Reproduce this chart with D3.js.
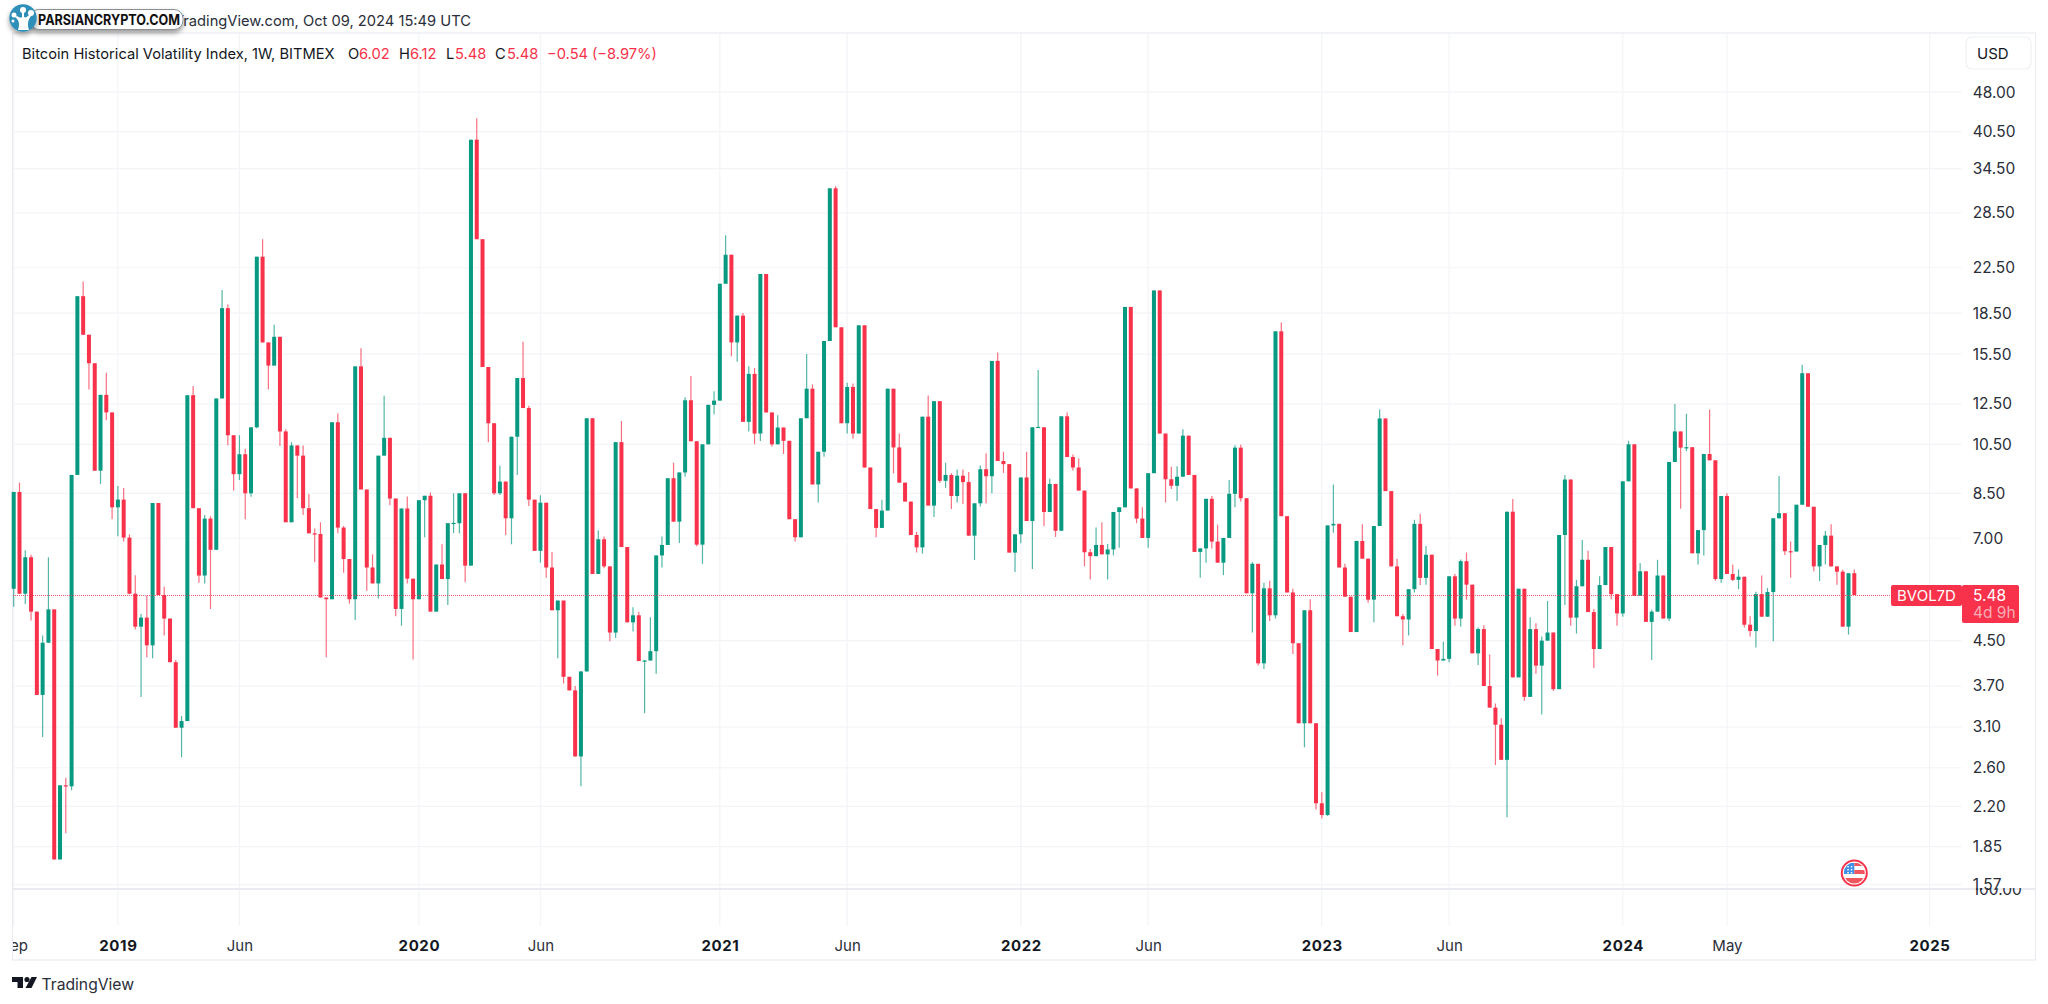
<!DOCTYPE html>
<html>
<head>
<meta charset="utf-8">
<title>Bitcoin Historical Volatility Index</title>
<script src="https://cdn.jsdelivr.net/npm/d3@7"></script>
<style>
  html, body { margin: 0; padding: 0; background: #fff; }
  svg { display: block; }
  text { font-family: Inter, "Noto Sans", sans-serif; }
</style>
</head>
<body>
<svg id="chart" width="2048" height="1004"></svg>
<script>
// Weekly candles. First bar is the week of Sep 03 2018
var opens = [
  5.63, 8.55, 5.51, 6.45, 5.10, 3.56, 4.46, 5.15, 1.75, 2.41,
  2.40, 9.20, 19.9, 16.85, 14.9, 9.37, 13.0, 12.05, 8.0, 8.27,
  7.02, 5.51, 4.78, 4.97, 4.41, 8.15, 5.48, 4.95, 4.10, 3.09,
  3.18, 12.98, 7.97, 5.96, 7.62, 6.66, 12.8, 18.9, 10.92, 9.23,
  10.06, 8.5, 11.3, 23.6, 16.3, 14.75, 16.7, 11.1, 7.5, 10.45,
  10.0, 7.97, 7.15, 7.13, 5.42, 5.38, 11.55, 7.33, 6.40, 5.38,
  14.7, 8.64, 6.17, 5.76, 10.0, 10.8, 8.31, 5.16, 7.96, 5.88,
  5.38, 8.25, 8.41, 5.1, 6.25, 5.87, 7.47, 7.47, 8.5, 6.22,
  39.1, 25.45, 14.66, 11.5, 8.5, 8.94, 7.63, 10.85, 13.98, 12.28,
  8.27, 6.63, 8.16, 6.17, 5.13, 5.35, 3.85, 3.63, 2.73, 3.94,
  11.75, 6.0, 6.97, 6.2, 4.66, 10.6, 6.74, 4.87, 5.02, 4.12,
  4.13, 4.30, 6.5, 6.8, 9.07, 7.52, 9.3, 12.7, 10.64, 6.81,
  10.5, 12.45, 12.68, 21.0, 23.8, 16.3, 18.3, 11.57, 14.23, 11.0,
  21.9, 12.05, 10.5, 11.29, 10.66, 7.6, 7.03, 11.75, 13.35, 8.83,
  10.17, 16.4, 31.7, 17.4, 11.5, 13.45, 11.0, 17.55, 9.5, 7.94,
  7.32, 7.89, 13.35, 10.36, 8.9, 8.2, 7.1, 6.73, 11.83, 8.06,
  12.65, 8.97, 9.2, 8.4, 9.17, 8.92, 7.08, 8.14, 9.43, 9.15,
  15.05, 9.77, 9.64, 6.58, 7.12, 9.1, 7.54, 11.3, 11.3, 7.84,
  8.85, 7.23, 11.85, 9.94, 9.5, 8.6, 6.59, 6.48, 6.8, 6.53,
  6.67, 7.84, 8.0, 19.0, 8.68, 7.62, 7.01, 9.27, 20.4, 11.0,
  9.03, 8.78, 9.13, 10.9, 9.2, 6.6, 6.7, 8.3, 6.9, 6.3,
  7.01, 8.48, 10.35, 8.32, 5.52, 6.27, 4.08, 5.64, 5.02, 17.1,
  7.7, 5.54, 4.45, 3.15, 5.13, 3.15, 2.23, 2.12, 7.4, 7.45,
  6.17, 5.44, 4.67, 6.92, 6.41, 5.37, 7.38, 11.74, 8.58, 6.2,
  5.0, 4.93, 5.62, 7.45, 5.9, 6.52, 4.34, 4.13, 4.16, 5.94,
  4.95, 6.34, 5.73, 4.26, 4.73, 3.7, 3.37, 3.13, 2.69, 7.85,
  3.84, 5.63, 3.53, 4.73, 4.04, 4.5, 4.66, 3.65, 7.1, 9.02,
  4.97, 5.69, 6.38, 5.09, 4.34, 5.72, 6.74, 5.5, 5.06, 8.95,
  10.5, 5.46, 6.07, 4.88, 5.1, 5.96, 4.95, 9.73, 11.1, 10.35,
  10.37, 6.56, 7.25, 10.07, 9.8, 5.87, 8.4, 6.0, 5.85, 5.93,
  4.82, 4.69, 5.5, 4.99, 5.55, 7.63, 7.8, 6.62, 6.61, 8.09,
  14.27, 8.02, 6.2, 6.8, 7.08, 6.2, 6.06, 4.78, 6.02
];
var highs = [
  8.55, 8.9, 6.65, 6.52, 5.10, 4.60, 6.45, 5.15, 2.41, 2.49,
  9.20, 19.9, 21.2, 16.85, 14.9, 13.0, 14.3, 12.05, 8.77, 8.7,
  7.12, 5.97, 5.05, 5.46, 8.15, 8.15, 5.68, 4.95, 4.14, 3.25,
  12.98, 13.5, 7.97, 7.74, 7.7, 12.8, 20.45, 19.2, 10.92, 10.92,
  10.3, 11.3, 23.6, 25.45, 16.3, 17.6, 16.7, 11.2, 10.6, 10.45,
  10.45, 8.47, 7.3, 7.5, 5.42, 11.55, 12.0, 7.38, 6.40, 14.7,
  15.9, 8.64, 6.53, 10.0, 12.95, 10.8, 8.31, 7.96, 8.38, 5.88,
  8.25, 8.41, 8.53, 6.25, 6.82, 7.47, 8.5, 8.5, 8.5, 39.1,
  42.9, 25.45, 14.66, 11.5, 9.57, 8.94, 10.85, 13.98, 16.35, 12.4,
  8.27, 8.43, 8.16, 6.6, 5.35, 5.35, 3.85, 3.70, 3.94, 11.75,
  11.75, 7.25, 7.05, 6.2, 10.6, 11.61, 6.74, 5.2, 5.1, 4.14,
  4.98, 6.5, 7.05, 9.07, 9.7, 9.3, 12.87, 14.1, 10.64, 10.5,
  12.45, 13.2, 21.0, 25.9, 23.8, 18.3, 18.5, 14.7, 14.6, 21.9,
  21.9, 12.05, 11.9, 11.29, 10.66, 7.6, 11.75, 15.5, 13.6, 10.17,
  16.4, 31.7, 32.0, 17.4, 13.7, 13.65, 17.55, 17.55, 9.5, 7.94,
  8.27, 13.35, 13.35, 11.0, 8.9, 8.2, 7.2, 11.83, 12.96, 12.65,
  12.65, 9.7, 9.27, 9.42, 9.42, 9.32, 8.14, 9.58, 10.1, 15.05,
  15.6, 10.17, 9.64, 7.12, 9.1, 10.17, 11.3, 14.47, 11.32, 9.05,
  8.85, 11.85, 12.05, 10.05, 9.88, 8.6, 6.68, 7.33, 7.5, 6.83,
  7.84, 8.0, 19.0, 19.0, 8.68, 8.0, 9.27, 20.4, 20.4, 11.0,
  9.53, 9.55, 11.2, 10.9, 9.2, 6.7, 8.3, 8.4, 7.42, 7.01,
  9.0, 10.46, 10.48, 8.32, 6.32, 6.27, 5.78, 5.83, 17.1, 17.76,
  7.7, 5.63, 4.45, 5.13, 5.38, 3.15, 2.34, 7.4, 8.83, 7.45,
  6.27, 5.44, 6.92, 7.44, 6.41, 7.38, 12.2, 11.74, 8.58, 6.41,
  5.05, 5.62, 7.58, 7.78, 6.77, 6.52, 4.34, 4.48, 5.94, 6.0,
  6.39, 6.58, 5.73, 4.76, 4.81, 4.24, 3.43, 3.22, 7.85, 8.29,
  5.63, 5.63, 4.98, 4.85, 4.58, 5.34, 4.66, 7.1, 9.2, 9.02,
  5.85, 6.95, 6.63, 5.16, 5.94, 6.74, 6.74, 5.5, 8.95, 10.66,
  10.5, 6.29, 6.07, 5.14, 6.38, 5.96, 9.73, 12.5, 11.1, 11.98,
  10.37, 7.25, 10.07, 12.2, 9.8, 8.4, 8.5, 6.25, 6.12, 5.93,
  5.0, 5.56, 5.96, 5.65, 7.63, 9.16, 7.8, 6.9, 8.09, 14.8,
  14.27, 8.02, 6.8, 7.22, 7.44, 6.2, 6.11, 6.02, 6.12
];
var lows = [
  5.21, 5.51, 5.27, 4.91, 3.56, 2.97, 4.46, 1.75, 1.75, 1.96,
  2.36, 9.2, 16.85, 13.3, 9.37, 8.85, 11.65, 7.6, 7.06, 6.9,
  5.51, 4.72, 3.53, 4.19, 4.17, 5.48, 4.60, 4.10, 3.09, 2.72,
  3.18, 7.97, 5.78, 5.76, 5.16, 6.66, 12.8, 10.46, 8.6, 9.0,
  7.6, 8.37, 11.25, 16.3, 13.3, 14.75, 10.42, 7.5, 7.5, 8.33,
  7.74, 7.15, 6.31, 5.42, 4.19, 5.38, 7.15, 6.03, 5.28, 4.92,
  8.64, 5.58, 5.76, 5.4, 10.0, 8.07, 5.0, 4.8, 5.76, 4.15,
  5.38, 7.03, 5.1, 5.1, 5.87, 5.25, 7.16, 7.15, 5.79, 6.22,
  25.45, 14.66, 10.6, 8.44, 8.44, 7.1, 6.82, 9.2, 12.28, 8.05,
  6.63, 6.3, 5.9, 5.13, 4.17, 3.74, 3.63, 2.73, 2.40, 3.94,
  6.0, 6.0, 6.15, 4.49, 4.55, 6.74, 4.87, 4.68, 4.12, 3.29,
  4.13, 3.9, 6.17, 6.8, 7.52, 6.86, 9.13, 10.64, 6.76, 6.27,
  10.5, 11.95, 12.68, 21.0, 15.35, 15.0, 11.57, 11.1, 10.5, 10.65,
  12.05, 10.4, 10.5, 10.07, 7.6, 6.9, 7.03, 11.75, 8.83, 8.17,
  9.95, 16.4, 17.4, 11.5, 11.0, 10.75, 11.0, 9.5, 7.94, 7.03,
  7.32, 7.89, 9.26, 8.9, 8.2, 7.1, 6.58, 6.55, 8.06, 7.67,
  8.9, 8.7, 7.94, 8.17, 8.12, 7.08, 6.37, 8.03, 8.14, 8.5,
  9.77, 9.28, 6.58, 6.05, 6.85, 7.54, 6.13, 11.3, 7.37, 7.84,
  7.04, 7.23, 9.94, 9.38, 8.6, 6.2, 5.86, 6.48, 6.53, 5.86,
  6.5, 6.72, 8.0, 8.68, 7.47, 7.01, 6.72, 9.27, 11.0, 8.17,
  8.66, 8.22, 9.13, 9.2, 6.6, 5.9, 6.3, 6.7, 6.3, 5.97,
  7.01, 8.0, 8.2, 5.52, 4.66, 4.04, 3.98, 4.9, 4.95, 7.7,
  5.54, 4.25, 3.15, 2.84, 3.15, 2.17, 2.09, 2.11, 7.17, 6.17,
  5.44, 4.67, 4.67, 6.41, 5.3, 4.87, 7.38, 8.58, 6.2, 5.0,
  4.41, 4.6, 5.54, 5.72, 5.73, 4.34, 3.87, 4.13, 4.1, 4.8,
  4.78, 5.37, 4.26, 4.05, 3.7, 3.37, 2.63, 2.69, 2.1, 3.84,
  3.84, 3.47, 3.53, 3.9, 3.27, 4.5, 3.62, 3.65, 5.25, 4.8,
  4.64, 5.69, 5.09, 4.0, 4.34, 5.72, 5.38, 4.8, 4.99, 8.95,
  5.46, 5.46, 4.88, 4.14, 5.1, 4.95, 4.9, 9.73, 7.95, 10.2,
  6.56, 6.25, 6.5, 9.8, 5.83, 5.78, 6.0, 5.82, 5.62, 4.76,
  4.58, 4.37, 4.99, 4.99, 4.49, 7.63, 6.51, 5.9, 6.61, 8.09,
  8.02, 6.07, 5.82, 6.25, 6.2, 5.73, 4.78, 4.62, 5.48
];
var closes = [
  8.55, 5.51, 6.45, 5.10, 3.56, 4.46, 5.15, 1.75, 2.41, 2.40,
  9.20, 19.9, 16.85, 14.9, 9.37, 13.0, 12.05, 8.0, 8.27, 7.02,
  5.51, 4.78, 4.97, 4.41, 8.15, 5.48, 4.95, 4.10, 3.09, 3.18,
  12.98, 7.97, 5.96, 7.62, 6.66, 12.8, 18.9, 10.92, 9.23, 10.06,
  8.5, 11.3, 23.6, 16.3, 14.75, 16.7, 11.1, 7.5, 10.45, 10.0,
  7.97, 7.15, 7.13, 5.42, 5.38, 11.55, 7.33, 6.40, 5.38, 14.7,
  8.64, 6.17, 5.76, 10.0, 10.8, 8.31, 5.16, 7.96, 5.88, 5.38,
  8.25, 8.41, 5.1, 6.25, 5.87, 7.47, 7.48, 8.5, 6.22, 39.1,
  25.45, 14.66, 11.5, 8.5, 8.94, 7.63, 10.85, 13.98, 12.28, 8.27,
  6.63, 8.16, 6.17, 5.13, 5.35, 3.85, 3.63, 2.73, 3.94, 11.75,
  6.0, 6.97, 6.2, 4.66, 10.6, 6.74, 4.87, 5.02, 4.12, 4.13,
  4.30, 6.5, 6.8, 9.07, 7.52, 9.3, 12.7, 10.64, 6.81, 10.5,
  12.45, 12.68, 21.0, 23.8, 16.3, 18.3, 11.57, 14.23, 11.0, 21.9,
  12.05, 10.5, 11.29, 10.66, 7.6, 7.03, 11.75, 13.35, 8.83, 10.17,
  16.4, 31.7, 17.4, 11.5, 13.45, 11.0, 17.55, 9.5, 7.94, 7.32,
  7.89, 13.35, 10.36, 8.9, 8.2, 7.1, 6.73, 11.83, 8.06, 12.65,
  8.97, 9.2, 8.4, 9.17, 8.92, 7.08, 8.14, 9.43, 9.15, 15.05,
  9.77, 9.64, 6.58, 7.12, 9.1, 7.54, 11.3, 11.32, 7.84, 8.85,
  7.23, 11.85, 9.94, 9.5, 8.6, 6.59, 6.48, 6.8, 6.53, 6.67,
  7.84, 8.0, 19.0, 8.68, 7.62, 7.01, 9.27, 20.4, 11.0, 9.03,
  8.78, 9.13, 10.9, 9.2, 6.6, 6.7, 8.3, 6.9, 6.3, 7.01,
  8.48, 10.35, 8.32, 5.52, 6.27, 4.08, 5.64, 5.02, 17.1, 7.7,
  5.54, 4.45, 3.15, 5.13, 3.15, 2.23, 2.12, 7.4, 7.45, 6.17,
  5.44, 4.67, 6.92, 6.41, 5.37, 7.38, 11.74, 8.58, 6.2, 5.0,
  4.93, 5.62, 7.45, 5.9, 6.52, 4.34, 4.13, 4.16, 5.94, 4.95,
  6.34, 5.73, 4.26, 4.73, 3.7, 3.37, 3.13, 2.69, 7.85, 3.84,
  5.63, 3.53, 4.73, 4.04, 4.5, 4.66, 3.65, 7.1, 9.02, 4.97,
  5.69, 6.38, 5.09, 4.34, 5.72, 6.74, 5.5, 5.06, 8.95, 10.5,
  5.46, 6.07, 4.88, 5.1, 5.96, 4.95, 9.73, 11.1, 10.35, 10.37,
  6.56, 7.25, 10.07, 9.8, 5.87, 8.4, 6.0, 5.85, 5.93, 4.82,
  4.69, 5.5, 4.99, 5.55, 7.63, 7.8, 6.62, 6.61, 8.09, 14.27,
  8.02, 6.2, 6.8, 7.08, 6.2, 6.06, 4.78, 6.02, 5.48
];

// Axis labels. Time ticks are bar numbers, 2025 sits past the last bar
var priceTicks = [48, 40.5, 34.5, 28.5, 22.5, 18.5, 15.5, 12.5, 10.5, 8.5, 7, 4.5, 3.7, 3.1, 2.6, 2.2, 1.85, 1.57];
var timeTickBars = [0, 18, 39, 70, 91, 122, 144, 174, 196, 226, 248, 278, 296, 331];
var timeTickLabels = ["Sep", "2019", "Jun", "2020", "Jun", "2021", "Jun", "2022", "Jun", "2023", "Jun", "2024", "May", "2025"];
var lastPrice = 5.48;
var symbol = "BVOL7D";
var countdown = "4d 9h";

var UP = "#089981";
var DOWN = "#f7324a";
var GRID = "#f3f4f7";
var FRAME = "#e9ebf0";
var INK = "#2a2e39";
var TEXT_SIZE = 14.7;

var svg = d3.select("#chart");
var defs = svg.append("defs");

var lastBar = closes.length - 1;
var x = d3.scaleLinear().domain([0, lastBar]).range([13.7, 1854.3]);
var y = d3.scaleLog().domain([1.57, 48]).range([884.6, 92.2]);

// Clip the cut off "Sep" label and the hidden lower pane scale
defs.append("clipPath").attr("id", "timeClip")
  .append("rect").attr("x", 13).attr("y", 926).attr("width", 2022).attr("height", 34);
defs.append("clipPath").attr("id", "paneClip")
  .append("rect").attr("x", 1962).attr("y", 888).attr("width", 73).attr("height", 12);

// Grid
var grid = svg.append("g");
grid.selectAll(".hgrid").data(priceTicks).enter().append("line")
  .attr("x1", 13).attr("x2", 1961.5)
  .attr("y1", d => y(d)).attr("y2", d => y(d))
  .attr("stroke", GRID).attr("stroke-width", 1.2);
grid.selectAll(".vgrid").data(timeTickBars).enter().append("line")
  .attr("x1", d => x(d)).attr("x2", d => x(d))
  .attr("y1", 33).attr("y2", 926)
  .attr("stroke", GRID).attr("stroke-width", 1.2);

// Frame
var frame = svg.append("g").attr("fill", "none").attr("stroke", FRAME).attr("stroke-width", 1.2);
frame.append("rect").attr("x", 12.5).attr("y", 33).attr("width", 2023).attr("height", 927);
frame.append("line").attr("x1", 12.5).attr("x2", 2035.5).attr("y1", 889).attr("y2", 889).attr("stroke-width", 2);

// Candles
var bars = d3.range(closes.length);

svg.append("g").selectAll("line").data(bars).enter().append("line")
  .attr("x1", d => x(d)).attr("x2", d => x(d))
  .attr("y1", d => y(highs[d])).attr("y2", d => y(lows[d]))
  .attr("stroke", d => closes[d] >= opens[d] ? UP : DOWN)
  .attr("stroke-width", 1.2)
  .attr("stroke-opacity", 0.7);

svg.append("g").selectAll("rect").data(bars).enter().append("rect")
  .attr("x", d => x(d) - 2)
  .attr("width", 4)
  .attr("y", d => y(Math.max(opens[d], closes[d])))
  .attr("height", d => Math.max(1.2, Math.abs(y(opens[d]) - y(closes[d]))))
  .attr("fill", d => closes[d] >= opens[d] ? UP : DOWN);

// Last price line, kept on a whole pixel so the dots stay visible
var lastY = Math.round(y(lastPrice)) + 0.5;
svg.append("line")
  .attr("x1", 13).attr("x2", 1891)
  .attr("y1", lastY).attr("y2", lastY)
  .attr("stroke", DOWN).attr("stroke-width", 1)
  .attr("stroke-dasharray", "1 1").attr("stroke-opacity", 0.8);

// Price axis
var priceAxis = svg.append("g")
  .attr("transform", "translate(1961.7,0)")
  .call(d3.axisRight(y).tickValues(priceTicks).tickFormat(d3.format(".2f")).tickSize(0).tickPadding(11));
priceAxis.select(".domain").remove();
priceAxis.selectAll("text")
  .attr("font-family", "Inter").attr("font-size", 15.5).attr("fill", INK);

// Lower pane scale peeks out under 1.57
svg.append("text")
  .attr("x", 1972.7).attr("y", 895)
  .attr("clip-path", "url(#paneClip)")
  .attr("font-size", 15.5).attr("fill", INK)
  .text("100.00");

// Time axis
var timeAxis = svg.append("g")
  .attr("clip-path", "url(#timeClip)")
  .append("g")
  .attr("transform", "translate(0,926)")
  .call(d3.axisBottom(x).tickValues(timeTickBars).tickFormat((d, i) => timeTickLabels[i]).tickSize(0).tickPadding(14));
timeAxis.select(".domain").remove();
timeAxis.selectAll("text")
  .attr("font-family", "Inter")
  .attr("font-size", 15)
  .attr("fill", (d, i) => timeTickLabels[i].length == 4 ? "#131722" : INK)
  .attr("font-weight", (d, i) => timeTickLabels[i].length == 4 ? 700 : 400)
  .attr("letter-spacing", (d, i) => timeTickLabels[i].length == 4 ? 0.6 : 0);

// Last price tags
var tags = svg.append("g");
tags.append("rect").attr("x", 1891).attr("y", 585).attr("width", 71).attr("height", 21).attr("rx", 2).attr("fill", DOWN);
tags.append("rect").attr("x", 1962).attr("y", 585).attr("width", 57).attr("height", 38).attr("rx", 2).attr("fill", DOWN);
tags.append("text").attr("x", 1897).attr("y", 601).attr("fill", "#fff").attr("font-size", 15).text(symbol);
tags.append("text").attr("x", 1973).attr("y", 601).attr("fill", "#fff").attr("font-size", 15.5).text(d3.format(".2f")(lastPrice));
tags.append("text").attr("x", 1973).attr("y", 618).attr("fill", "#fff").attr("fill-opacity", 0.6).attr("font-size", 15.5).text(countdown);

// USD button
svg.append("rect").attr("x", 1966).attr("y", 37).attr("width", 65).attr("height", 32).attr("rx", 6)
  .attr("fill", "#fff").attr("stroke", "#eff1f4").attr("stroke-width", 1.2);
svg.append("text").attr("x", 1977).attr("y", 58.5).attr("font-size", 15).attr("fill", "#131722").text("USD");

// Legend line
var legend = svg.append("g").attr("font-size", TEXT_SIZE).attr("fill", "#131722");
legend.append("text").attr("x", 22).attr("y", 58.5).text("Bitcoin Historical Volatility Index, 1W, BITMEX");
var legendParts = [
  ["O", 348, "#131722"], ["6.02", 359, DOWN],
  ["H", 399, "#131722"], ["6.12", 410, DOWN],
  ["L", 446, "#131722"], ["5.48", 455, DOWN],
  ["C", 495, "#131722"], ["5.48", 507, DOWN],
  ["\u22120.54", 547, DOWN], ["(\u22128.97%)", 592, DOWN]
];
legend.selectAll(".part").data(legendParts).enter().append("text")
  .attr("x", d => d[1]).attr("y", 58.5).attr("fill", d => d[2]).text(d => d[0]);

// Header line, its start runs under the watermark
svg.append("text").attr("x", 471).attr("y", 25.5).attr("text-anchor", "end")
  .attr("font-size", TEXT_SIZE).attr("fill", "#2a2e39")
  .text("Published on TradingView.com, Oct 09, 2024 15:49 UTC");

// Watermark
var shadow = defs.append("filter").attr("id", "soft").attr("x", "-20%").attr("y", "-40%").attr("width", "140%").attr("height", "200%");
shadow.append("feDropShadow").attr("dx", 0).attr("dy", 3).attr("stdDeviation", 2.5)
  .attr("flood-color", "#000").attr("flood-opacity", 0.4);
var mark = svg.append("g");
mark.append("rect").attr("x", 30).attr("y", 9.5).attr("width", 153).attr("height", 20).attr("rx", 9)
  .attr("fill", "#fff").attr("stroke", "#8b8f94").attr("stroke-width", 1).attr("filter", "url(#soft)");
mark.append("circle").attr("cx", 23).attr("cy", 18).attr("r", 13.7).attr("fill", "#2f8fb9").attr("filter", "url(#soft)");
mark.append("path").attr("fill", "#fff")
  .attr("d", "M18,30 C20,24 19,20 15,17 L17,16 C20,18 21,18 22,17 L22,11 L24,11 L24,17 C26,18 27,17 30,14 L31,16 C28,20 27,24 29,30 Z");
[[23, 10, 3], [14, 15, 2.5], [31, 13, 3], [13, 21, 1.5]].forEach(function (c) {
  mark.append("circle").attr("cx", c[0]).attr("cy", c[1]).attr("r", c[2]).attr("fill", "#fff");
});
mark.append("text").attr("x", 38).attr("y", 24.5)
  .attr("font-family", "Liberation Sans").attr("font-weight", 700).attr("font-size", 14.5).attr("fill", "#111")
  .attr("textLength", 142).attr("lengthAdjust", "spacingAndGlyphs")
  .text("PARSIANCRYPTO.COM");

// US flag event marker under the last bar
var flagX = x(lastBar), flagY = 873;
defs.append("clipPath").attr("id", "flagClip")
  .append("circle").attr("cx", flagX).attr("cy", flagY).attr("r", 10.5);
var flag = svg.append("g");
flag.append("circle").attr("cx", flagX).attr("cy", flagY).attr("r", 12.5)
  .attr("fill", "#fff").attr("stroke", DOWN).attr("stroke-width", 2);
var flagBody = flag.append("g").attr("clip-path", "url(#flagClip)");
flagBody.append("rect").attr("x", flagX - 11).attr("y", flagY - 10).attr("width", 11).attr("height", 11).attr("fill", "#3d8fe8");
flagBody.append("rect").attr("x", flagX).attr("y", flagY - 10).attr("width", 11).attr("height", 3).attr("fill", "#f0565f");
flagBody.append("rect").attr("x", flagX).attr("y", flagY - 3).attr("width", 11).attr("height", 4).attr("fill", "#f0565f");
flagBody.append("rect").attr("x", flagX - 11).attr("y", flagY + 5).attr("width", 22).attr("height", 6).attr("fill", "#f0565f");
[-7, -3.5].forEach(function (dx) {
  [-7, -4, -1].forEach(function (dy) {
    flagBody.append("rect").attr("x", flagX + dx).attr("y", flagY + dy).attr("width", 1.5).attr("height", 1.5).attr("fill", "#fff");
  });
});

// TradingView footer
var logo = svg.append("g").attr("fill", "#131722");
logo.append("path").attr("d", "M12,977 H23 V988 H17.5 V982 H12 Z");
logo.append("circle").attr("cx", 27).attr("cy", 979.5).attr("r", 2.6);
logo.append("path").attr("d", "M31.5,977 H37 L31.5,988 H25.5 Z");
svg.append("text").attr("x", 41.5).attr("y", 989.5).attr("font-size", 15.7).attr("fill", "#2a2e39").text("TradingView");
</script>
</body>
</html>
